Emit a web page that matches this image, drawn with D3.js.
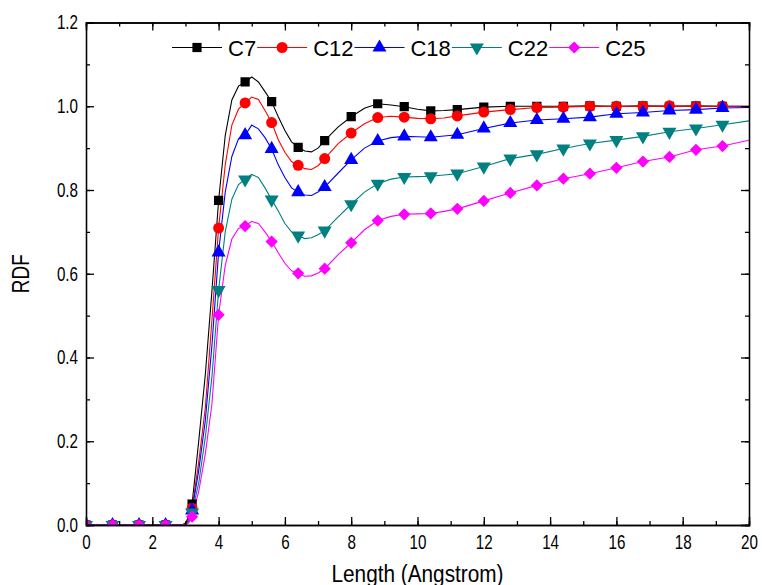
<!DOCTYPE html>
<html>
<head>
<meta charset="utf-8">
<script src="https://cdn.jsdelivr.net/npm/d3@7"></script>
<style>
  body { margin: 0; background: #fff; }
  svg { display: block; }
  .tick text { font-family: "Liberation Sans", Arial, sans-serif; font-size: 20px; fill: #000; }
  .axis path, .axis line { stroke: #000; stroke-width: 1.3; }
  .title { font-family: "Liberation Sans", Arial, sans-serif; font-size: 23px; }
  .legend text { font-family: "Liberation Sans", Arial, sans-serif; font-size: 22px; }
</style>
</head>
<body>
<script>
const w = 762
const h = 585
const margin = { top: 22.5, right: 13, bottom: 60, left: 86 }

// sampled RDF curves (Angstrom)
const lengths = [0, 0.8, 1.6, 2.4, 2.9, 3.0, 3.1, 3.2, 3.4, 3.6, 3.8, 4.0, 4.2, 4.4, 4.6, 4.8, 5.0, 5.2, 5.4, 5.6, 5.8, 6.0, 6.2, 6.4, 6.6, 6.8, 7.0, 7.2, 7.6, 8.0, 8.4, 8.8, 9.2, 9.6, 10.0, 10.4, 10.8, 11.2, 12.0, 12.8, 13.6, 14.4, 15.2, 16.0, 16.8, 17.6, 18.4, 19.2, 20.0]
const c7  = [0, 0, 0, 0, 0, 0.005, 0.02, 0.05, 0.2, 0.36, 0.56, 0.775, 0.93, 1.015, 1.048, 1.058, 1.07, 1.058, 1.035, 1.011, 0.975, 0.942, 0.915, 0.902, 0.893, 0.891, 0.9, 0.918, 0.95, 0.975, 0.995, 1.006, 1.003, 0.999, 0.993, 0.989, 0.99, 0.992, 0.998, 1.0, 1.0, 1.0, 1.001, 1.0, 1.001, 1.0, 1.001, 1.0, 1.0]
const c12 = [0, 0, 0, 0, 0, 0.003, 0.015, 0.04, 0.15, 0.28, 0.49, 0.709, 0.86, 0.955, 0.993, 1.008, 1.022, 1.016, 0.99, 0.961, 0.92, 0.89, 0.868, 0.859, 0.851, 0.849, 0.858, 0.875, 0.91, 0.936, 0.958, 0.973, 0.976, 0.974, 0.971, 0.97, 0.972, 0.977, 0.986, 0.992, 0.997, 0.998, 1.0, 1.0, 1.0, 1.001, 1.0, 1.0, 1.0]
const c18 = [0, 0, 0, 0, 0, 0.002, 0.01, 0.035, 0.13, 0.25, 0.43, 0.651, 0.795, 0.88, 0.922, 0.931, 0.955, 0.946, 0.925, 0.898, 0.86, 0.83, 0.805, 0.795, 0.788, 0.787, 0.795, 0.807, 0.84, 0.872, 0.9, 0.917, 0.925, 0.928, 0.927, 0.926, 0.929, 0.932, 0.947, 0.96, 0.967, 0.97, 0.974, 0.982, 0.985, 0.99, 0.992, 0.996, 0.997]
const c22 = [0, 0, 0, 0, 0, 0.001, 0.008, 0.03, 0.1, 0.21, 0.355, 0.561, 0.7, 0.778, 0.813, 0.825, 0.837, 0.83, 0.805, 0.777, 0.75, 0.72, 0.7, 0.691, 0.684, 0.686, 0.693, 0.703, 0.735, 0.766, 0.795, 0.815, 0.826, 0.831, 0.832, 0.833, 0.836, 0.839, 0.856, 0.875, 0.885, 0.899, 0.911, 0.919, 0.928, 0.939, 0.947, 0.956, 0.965]
const c25 = [0, 0, 0, 0, 0, 0, 0.005, 0.02, 0.08, 0.17, 0.29, 0.502, 0.62, 0.683, 0.708, 0.714, 0.725, 0.72, 0.7, 0.677, 0.65, 0.625, 0.607, 0.601, 0.594, 0.595, 0.602, 0.612, 0.645, 0.674, 0.705, 0.727, 0.737, 0.742, 0.743, 0.744, 0.749, 0.755, 0.774, 0.793, 0.811, 0.827, 0.839, 0.853, 0.868, 0.879, 0.896, 0.905, 0.919]

// symbols are drawn every 0.8 A
const markerLengths = [0, 0.8, 1.6, 2.4, 3.2, 4.0, 4.8, 5.6, 6.4, 7.2, 8.0, 8.8, 9.6, 10.4, 11.2, 12.0, 12.8, 13.6, 14.4, 15.2, 16.0, 16.8, 17.6, 18.4, 19.2]

const seriesNames = ['C7', 'C12', 'C18', 'C22', 'C25']
const seriesValues = [c7, c12, c18, c22, c25]
const seriesColors = ['#000000', '#ff0000', '#0000ff', '#008080', '#ff00ff']
const seriesSymbols = [
  { type: d3.symbolSquare, size: 85, rotate: 0 },
  { type: d3.symbolCircle, size: 95, rotate: 0 },
  { type: d3.symbolTriangle, size: 85, rotate: 0 },
  { type: d3.symbolTriangle, size: 85, rotate: 180 },
  { type: d3.symbolSquare, size: 75, rotate: 45 }
]

const xTicks = [0, 2, 4, 6, 8, 10, 12, 14, 16, 18, 20]
const yTicks = [0, 0.2, 0.4, 0.6, 0.8, 1.0, 1.2]

const xScale = d3.scaleLinear().domain([0, 20]).range([margin.left, w - margin.right])
const yScale = d3.scaleLinear().domain([0, 1.2]).range([h - margin.bottom, margin.top])

const svg = d3.select('body').append('svg')
  .attr('width', w)
  .attr('height', h)

svg.append('defs').append('clipPath').attr('id', 'plot')
  .append('rect')
  .attr('x', margin.left).attr('y', margin.top)
  .attr('width', w - margin.left - margin.right)
  .attr('height', h - margin.top - margin.bottom)

const lineFun = d3.line()
  .x(function (d) { return xScale(d[0]) })
  .y(function (d) { return yScale(d[1]) })

const plot = svg.append('g').attr('clip-path', 'url(#plot)')

seriesValues.forEach(function (vals, i) {
  const pts = lengths.map(function (x, j) { return [x, vals[j]] })
  plot.append('path')
    .attr('d', lineFun(pts))
    .attr('fill', 'none')
    .attr('stroke', seriesColors[i])
    .attr('stroke-width', 1.1)
})

seriesValues.forEach(function (vals, i) {
  const sym = seriesSymbols[i]
  const pts = markerLengths.map(function (x) {
    const j = lengths.indexOf(x)
    return [x, vals[j]]
  })
  plot.selectAll(null).data(pts).enter().append('path')
    .attr('d', d3.symbol().type(sym.type).size(sym.size))
    .attr('transform', function (d) { return `translate(${xScale(d[0])},${yScale(d[1])}) rotate(${sym.rotate})` })
    .attr('fill', seriesColors[i])
})

// axes, ticks pointing inward on all four sides
const xMinor = d3.range(0, 21, 1)
const yMinor = d3.range(0, 13, 1).map(function (d) { return d / 10 })

function addAxis (gen, transform) {
  return svg.append('g').attr('class', 'axis').attr('transform', transform).call(gen)
}

addAxis(d3.axisBottom(xScale).tickValues(xMinor).tickSize(-4).tickFormat(''), `translate(0,${h - margin.bottom})`)
const xAxis = addAxis(d3.axisBottom(xScale).tickValues(xTicks).tickSize(-8).tickPadding(10).tickFormat(d3.format('d')), `translate(0,${h - margin.bottom})`)
addAxis(d3.axisTop(xScale).tickValues(xMinor).tickSize(-4).tickFormat(''), `translate(0,${margin.top})`)
addAxis(d3.axisTop(xScale).tickValues(xTicks).tickSize(-8).tickFormat(''), `translate(0,${margin.top})`)
addAxis(d3.axisLeft(yScale).tickValues(yMinor).tickSize(-4).tickFormat(''), `translate(${margin.left},0)`)
const yAxis = addAxis(d3.axisLeft(yScale).tickValues(yTicks).tickSize(-8).tickPadding(8).tickFormat(d3.format('.1f')), `translate(${margin.left},0)`)
addAxis(d3.axisRight(yScale).tickValues(yMinor).tickSize(-4).tickFormat(''), `translate(${w - margin.right},0)`)
addAxis(d3.axisRight(yScale).tickValues(yTicks).tickSize(-8).tickFormat(''), `translate(${w - margin.right},0)`)

svg.selectAll('.axis .domain').attr('stroke-width', 1.5)

// the original uses a narrow face for tick labels
xAxis.selectAll('.tick text').attr('transform', 'scale(0.76,1)')
yAxis.selectAll('.tick text').attr('transform', 'scale(0.76,1)').attr('x', -10.5)

svg.append('text')
  .attr('class', 'title')
  .attr('x', (margin.left + w - margin.right) / 2)
  .attr('y', 582)
  .attr('text-anchor', 'middle')
  .attr('textLength', 172)
  .attr('lengthAdjust', 'spacingAndGlyphs')
  .text('Length (Angstrom)')

svg.append('text')
  .attr('class', 'title')
  .attr('transform', `translate(29,${(margin.top + h - margin.bottom) / 2}) rotate(-90)`)
  .attr('text-anchor', 'middle')
  .attr('textLength', 39)
  .attr('lengthAdjust', 'spacingAndGlyphs')
  .text('RDF')

// legend in one row
const legend = svg.append('g').attr('class', 'legend')
let lx = 172
const ly = 47.5
seriesNames.forEach(function (name, i) {
  const sym = seriesSymbols[i]
  legend.append('line')
    .attr('x1', lx).attr('x2', lx + 50)
    .attr('y1', ly).attr('y2', ly)
    .attr('stroke', seriesColors[i])
    .attr('stroke-width', 1)
  legend.append('path')
    .attr('d', d3.symbol().type(sym.type).size(sym.size))
    .attr('transform', `translate(${lx + 25},${ly}) rotate(${sym.rotate})`)
    .attr('fill', seriesColors[i])
  const t = legend.append('text')
    .attr('x', lx + 56)
    .attr('y', ly + 8)
    .text(name)
  lx = lx + 56 + t.node().getComputedTextLength() + 1
})
</script>
</body>
</html>
